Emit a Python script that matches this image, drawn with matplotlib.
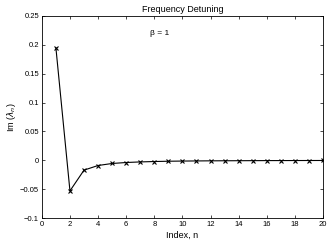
import matplotlib
matplotlib.use("Agg")
import matplotlib.pyplot as plt

n = list(range(1, 21))
im_lambda = [0.195, -0.053, -0.017, -0.009, -0.0055, -0.0038, -0.0028, -0.0021,
             -0.0016, -0.0013, -0.0011, -0.0009, -0.0008, -0.0007, -0.0006,
             -0.0005, -0.00045, -0.0004, -0.00035, -0.0003]
xticks = list(range(0, 21, 2))
yticks = [-0.1, -0.05, 0, 0.05, 0.1, 0.15, 0.2, 0.25]
ytick_labels = ["\u22120.1", "\u22120.05", "0", "0.05", "0.1", "0.15", "0.2", "0.25"]

plt.rcParams['font.family'] = ['Liberation Sans', 'DejaVu Sans']
fig = plt.figure(figsize=(3.32, 2.42), dpi=100)
ax = fig.add_axes([0.126, 0.099, 0.847, 0.835])
ax.plot(n, im_lambda, color='black', lw=0.8, marker='x', ms=3.5, mew=0.8)
ax.set_xlim(0, 20)
ax.set_ylim(-0.1, 0.25)
ax.set_xticks(xticks)
ax.set_yticks(yticks)
ax.set_yticklabels(ytick_labels)
ax.tick_params(direction='in', top=True, right=True, labelsize=5.5, length=2.5, width=0.5, pad=2)
for s in ax.spines.values():
    s.set_linewidth(0.6)
ax.set_title("Frequency Detuning", fontsize=6.5, pad=3)
ax.set_xlabel("Index, n", fontsize=6.5, labelpad=2)
ax.set_ylabel(r"Im ($\lambda_n$)", fontsize=6.5)
ax.yaxis.set_label_coords(-0.085, 0.5)
ax.text(8.4, 0.22, "\u03b2 = 1", fontsize=6, ha='center', va='center')
fig.savefig("out.png", dpi=100)
